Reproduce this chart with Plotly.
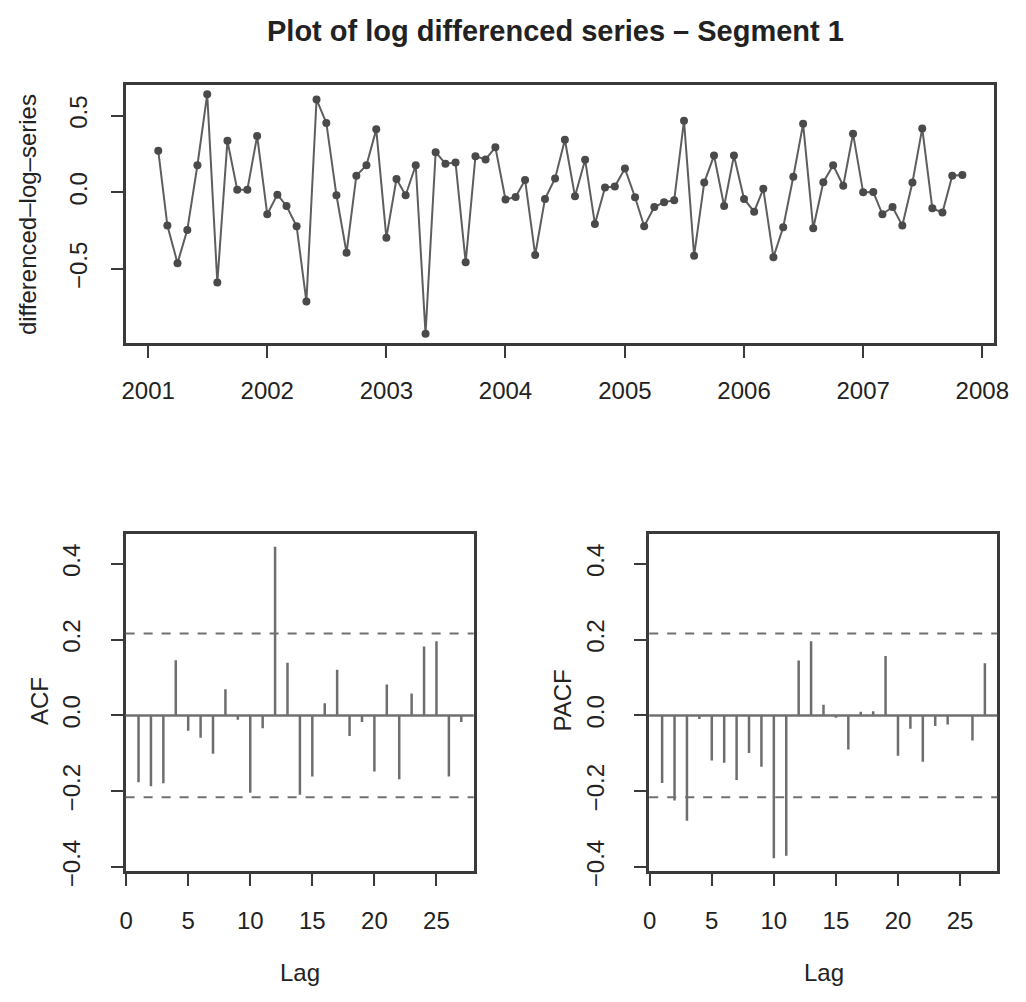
import plotly.graph_objects as go
import pandas as pd

# ---------------- data ----------------
series_start = "2001-02-01"   # monthly series, Feb 2001 .. Nov 2007
diff_log_values = [
    0.272, -0.217, -0.462, -0.245, 0.177, 0.640, -0.589, 0.336, 0.017, 0.017, 0.368,
    -0.143, -0.015, -0.089, -0.221, -0.713, 0.606, 0.453, -0.019, -0.394, 0.109, 0.177, 0.411,
    -0.296, 0.087, -0.019, 0.177, -0.923, 0.262, 0.187, 0.194, -0.457, 0.236, 0.215, 0.294,
    -0.047, -0.030, 0.081, -0.409, -0.043, 0.091, 0.343, -0.026, 0.213, -0.206, 0.032, 0.038,
    0.155, -0.032, -0.221, -0.096, -0.064, -0.051, 0.468, -0.413, 0.064, 0.240, -0.089, 0.240,
    -0.043, -0.126, 0.023, -0.423, -0.228, 0.102, 0.447, -0.234, 0.066, 0.177, 0.043, 0.383,
    0.000, 0.002, -0.143, -0.096, -0.217, 0.064, 0.417, -0.104, -0.132, 0.109, 0.113,
]
lags = list(range(1, 28))
acf_values = [
    -0.176, -0.187, -0.179, 0.146, -0.040, -0.059, -0.101, 0.069, -0.011, -0.204,
    -0.034, 0.445, 0.139, -0.209, -0.161, 0.032, 0.121, -0.054, -0.017, -0.148,
    0.082, -0.168, 0.058, 0.182, 0.196, -0.161, -0.017,
]
pacf_values = [
    -0.178, -0.224, -0.278, -0.009, -0.119, -0.125, -0.170, -0.099, -0.135, -0.377,
    -0.370, 0.145, 0.196, 0.028, -0.006, -0.090, 0.010, 0.011, 0.157, -0.106,
    -0.035, -0.122, -0.028, -0.024, 0.002, -0.066, 0.138,
]
conf_limit = 0.216
year_ticks = list(range(2001, 2009))
lag_ticks = [0, 5, 10, 15, 20, 25]
acf_yticks = [-0.4, -0.2, 0.0, 0.2, 0.4]
ts_yticks = [-0.5, 0.0, 0.5]

title_text = "Plot of log differenced series – Segment 1"
ts_ylabel = "differenced–log–series"

# ---------------- figure ----------------
W, H = 1026, 1002
dates = pd.date_range(series_start, periods=len(diff_log_values), freq="MS")

FONT = "Liberation Sans, Arial, Helvetica, sans-serif"
TXT = "#222222"
BOX = "#3a3a3a"
SER = "#5e5e5e"
BAR = "#6e6e6e"
FS = 24

def xd(px):
    return px / W

def yd(px):
    return 1 - px / H

def fmt(v):
    return f"{v:.1f}".replace("-", "−")

fig = go.Figure()

fig.add_trace(go.Scatter(
    x=dates, y=diff_log_values, mode="lines+markers",
    line=dict(color=SER, width=2),
    marker=dict(color="#4a4a4a", size=8, symbol="circle"),
    xaxis="x", yaxis="y", showlegend=False,
))

def stem_xy(lag_list, vals):
    xs, ys = [], []
    for l, v in zip(lag_list, vals):
        xs += [l, l, None]
        ys += [0, v, None]
    return xs, ys

ax, ay = stem_xy(lags, acf_values)
fig.add_trace(go.Scatter(x=ax, y=ay, mode="lines", line=dict(color=BAR, width=2.5),
                         xaxis="x2", yaxis="y2", showlegend=False))
px_, py_ = stem_xy(lags, pacf_values)
fig.add_trace(go.Scatter(x=px_, y=py_, mode="lines", line=dict(color=BAR, width=2.5),
                         xaxis="x3", yaxis="y3", showlegend=False))

shapes = []
for xr, yr in (("x2", "y2"), ("x3", "y3")):
    shapes.append(dict(type="line", xref=f"{xr} domain", yref=yr, x0=0, x1=1, y0=0, y1=0,
                       line=dict(color="#707070", width=2.5)))
    for c in (conf_limit, -conf_limit):
        shapes.append(dict(type="line", xref=f"{xr} domain", yref=yr, x0=0, x1=1, y0=c, y1=c,
                           line=dict(color="#707070", width=2, dash="dash")))

axis_common = dict(
    showline=True, mirror=True, linecolor=BOX, linewidth=2.5,
    ticks="outside", ticklen=12, tickwidth=2, tickcolor=BOX,
    showgrid=False, zeroline=False,
    tickfont=dict(family=FONT, size=FS, color=TXT),
)

fig.update_layout(
    width=W, height=H,
    margin=dict(l=0, r=0, t=0, b=0),
    paper_bgcolor="white", plot_bgcolor="white",
    font=dict(family=FONT, color=TXT),
    shapes=shapes,
    xaxis=dict(axis_common, domain=[xd(122), xd(1008)], anchor="y",
               type="date", range=["2000-10-24", "2008-02-07"],
               tickvals=[f"{y}-01-01" for y in year_ticks],
               ticktext=[str(y) for y in year_ticks], ticklabelstandoff=12),
    yaxis=dict(axis_common, domain=[yd(349), yd(86)], anchor="x",
               range=[-0.986, 0.703], tickvals=ts_yticks,
               ticktext=[fmt(v) for v in ts_yticks],
               tickangle=-90, ticklabelstandoff=14),
    xaxis2=dict(axis_common, domain=[xd(122), xd(477)], anchor="y2",
                range=[-0.04, 28.0], tickvals=lag_ticks, ticklabelstandoff=15),
    yaxis2=dict(axis_common, domain=[yd(885), yd(543)], anchor="x2",
                range=[-0.410, 0.478], tickvals=acf_yticks,
                ticktext=[fmt(v) for v in acf_yticks],
                tickangle=-90, ticklabelstandoff=21),
    xaxis3=dict(axis_common, domain=[xd(656), xd(1011)], anchor="y3",
                range=[-0.04, 28.0], tickvals=lag_ticks, ticklabelstandoff=15),
    yaxis3=dict(axis_common, domain=[yd(885), yd(543)], anchor="x3",
                range=[-0.410, 0.478], tickvals=acf_yticks,
                ticktext=[fmt(v) for v in acf_yticks],
                tickangle=-90, ticklabelstandoff=21),
)

ann = []
ann.append(dict(text=f"<b>{title_text}</b>", x=xd(560), y=yd(32), xref="paper", yref="paper",
                showarrow=False, font=dict(family=FONT, size=29, color=TXT),
                xanchor="center", yanchor="middle"))
ann.append(dict(text=ts_ylabel, x=xd(22), y=yd(218), xref="paper", yref="paper",
                showarrow=False, textangle=-90, font=dict(family=FONT, size=FS, color=TXT),
                xanchor="center", yanchor="middle"))
ann.append(dict(text="ACF", x=xd(34), y=yd(712), xref="paper", yref="paper",
                showarrow=False, textangle=-90, font=dict(family=FONT, size=FS, color=TXT),
                xanchor="center", yanchor="middle"))
ann.append(dict(text="PACF", x=xd(568), y=yd(712), xref="paper", yref="paper",
                showarrow=False, textangle=-90, font=dict(family=FONT, size=FS, color=TXT),
                xanchor="center", yanchor="middle"))
for cx in (300, 834):
    ann.append(dict(text="Lag", x=xd(cx), y=yd(988), xref="paper", yref="paper",
                    showarrow=False, font=dict(family=FONT, size=FS, color=TXT),
                    xanchor="center", yanchor="middle"))
fig.update_layout(annotations=ann)

fig.write_html("out.html")
